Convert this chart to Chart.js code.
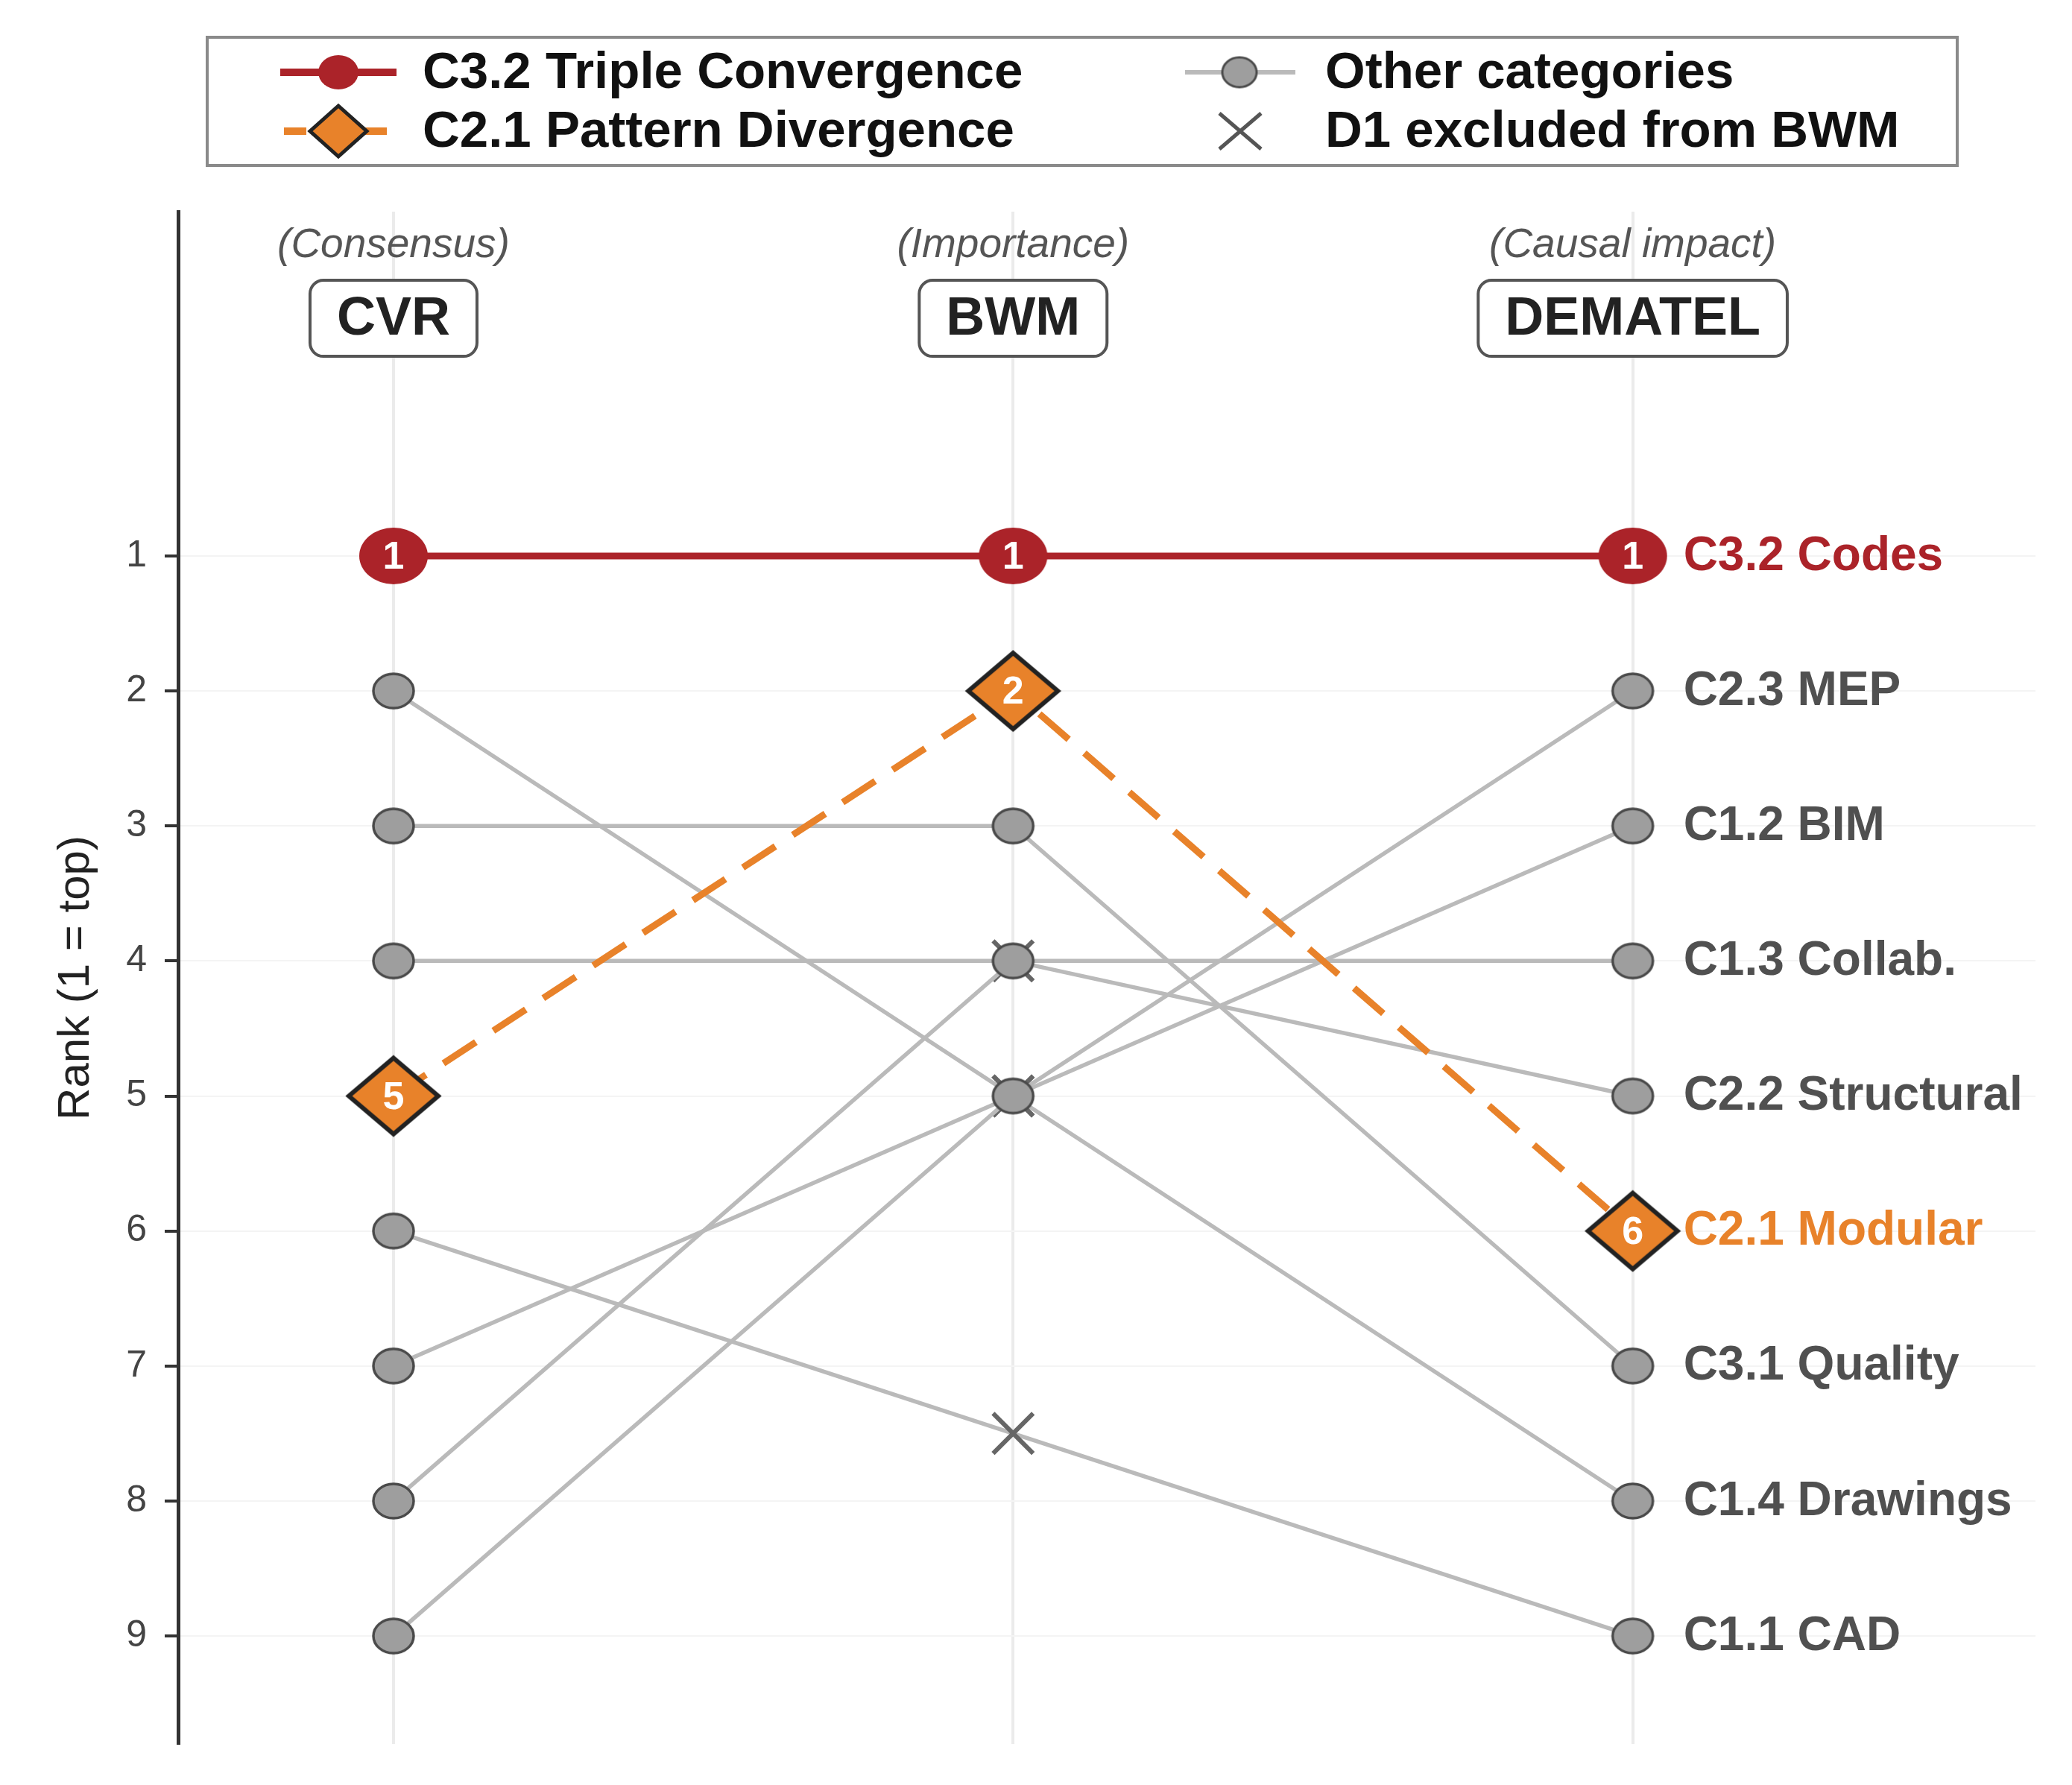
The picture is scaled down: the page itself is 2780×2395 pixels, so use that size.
<!DOCTYPE html>
<html>
<head>
<meta charset="utf-8">
<title>Rank comparison CVR / BWM / DEMATEL</title>
<script src="https://cdn.jsdelivr.net/npm/chart.js@4.4.1/dist/chart.umd.min.js"></script>
<style>
  html, body { margin: 0; padding: 0; background: #fff; }
  canvas { display: block; }
</style>
</head>
<body>
<canvas id="rankChart" width="2780" height="2395"></canvas>
<script>
// Methods (columns) and their notes
const methods = ['CVR', 'BWM', 'DEMATEL'];
const methodNotes = ['(Consensus)', '(Importance)', '(Causal impact)'];
const rankTicks = [1, 2, 3, 4, 5, 6, 7, 8, 9];

// Categories and their ranks per method
const categories = ['C3.2 Codes', 'C2.1 Modular', 'C2.3 MEP', 'C1.2 BIM', 'C1.3 Collab.',
                    'C2.2 Structural', 'C3.1 Quality', 'C1.4 Drawings', 'C1.1 CAD'];
const cvrRank = [1, 5, 9, 7, 4, 8, 3, 2, 6];
const bwmRank = [1, 2, 5, 5, 4, 4, 3, 5, 7.5];   // D1 rows: placeholder position (not ranked by BWM)
const dematelRank = [1, 6, 2, 3, 4, 5, 7, 8, 9];
const excludedD1 = [false, false, false, true, true, false, false, true, true];

const RED = '#AB2329';
const ORANGE = '#E8822A';
const GRAY_LINE = '#bababa';
const FONT = '"Liberation Sans", Arial, Helvetica, sans-serif';

// marker images
function ellipseMarker(rx, ry, fill, stroke, lw) {
    const c = document.createElement('canvas');
    c.width = Math.ceil(2 * rx + lw + 2);
    c.height = Math.ceil(2 * ry + lw + 2);
    const g = c.getContext('2d');
    g.beginPath();
    g.ellipse(c.width / 2, c.height / 2, rx, ry, 0, 0, Math.PI * 2);
    g.fillStyle = fill;
    g.fill();
    if (lw) { g.lineWidth = lw; g.strokeStyle = stroke; g.stroke(); }
    return c;
}
function diamondMarker(hw, hh, fill, stroke, lw) {
    const c = document.createElement('canvas');
    c.width = Math.ceil(2 * hw + lw * 2 + 2);
    c.height = Math.ceil(2 * hh + lw * 2 + 2);
    const g = c.getContext('2d');
    const cx = c.width / 2, cy = c.height / 2;
    g.beginPath();
    g.moveTo(cx, cy - hh); g.lineTo(cx + hw, cy); g.lineTo(cx, cy + hh); g.lineTo(cx - hw, cy);
    g.closePath();
    g.fillStyle = fill; g.fill();
    g.lineWidth = lw; g.strokeStyle = stroke; g.lineJoin = 'miter'; g.stroke();
    return c;
}
const redDot = ellipseMarker(46, 38, RED, RED, 0);
const grayDot = ellipseMarker(27, 23, '#9e9e9e', '#4a4a4a', 3.5);
const orangeDiamond = diamondMarker(60, 51, ORANGE, '#222', 6);

// one dataset per category
const datasets = categories.map((name, i) => {
    const data = [
        { x: 1, y: cvrRank[i] },
        { x: 2, y: bwmRank[i] },
        { x: 3, y: dematelRank[i] }
    ];
    if (i === 0) {
        return { label: name, data, borderColor: RED, borderWidth: 9, pointStyle: redDot, order: 0 };
    }
    if (i === 1) {
        return { label: name, data, borderColor: ORANGE, borderWidth: 9, borderDash: [52, 28],
                 pointStyle: orangeDiamond, order: 1 };
    }
    if (excludedD1[i]) {
        return {
            label: name, data, borderColor: GRAY_LINE, borderWidth: 5.5,
            pointStyle: [grayDot, 'crossRot', grayDot],
            pointRadius: [10, 38, 10],
            pointBorderColor: ['#4a4a4a', '#666', '#4a4a4a'],
            pointBorderWidth: [1, 6, 1],
            order: 3
        };
    }
    return { label: name, data, borderColor: GRAY_LINE, borderWidth: 5.5, pointStyle: grayDot, order: 2 };
});

function roundRect(ctx, x, y, w, h, r) {
    ctx.beginPath();
    ctx.moveTo(x + r, y);
    ctx.arcTo(x + w, y, x + w, y + h, r);
    ctx.arcTo(x + w, y + h, x, y + h, r);
    ctx.arcTo(x, y + h, x, y, r);
    ctx.arcTo(x, y, x + w, y, r);
    ctx.closePath();
}

// headers, in-marker numbers, end labels and the legend
const annotations = {
    id: 'annotations',
    afterDatasetsDraw(chart) {
        const ctx = chart.ctx;
        const xs = chart.scales.x, ys = chart.scales.y;
        ctx.save();
        ctx.textBaseline = 'middle';
        ctx.textAlign = 'center';

        // column headers
        methods.forEach((m, i) => {
            const cx = xs.getPixelForValue(i + 1);
            ctx.font = 'italic 55px ' + FONT;
            ctx.fillStyle = '#555';
            ctx.fillText(methodNotes[i], cx, ys.getPixelForValue(-1.3));
            ctx.font = 'bold 72px ' + FONT;
            const w = ctx.measureText(m).width + 72;
            const cy = ys.getPixelForValue(-0.76);
            roundRect(ctx, cx - w / 2, cy - 51, w, 102, 18);
            ctx.fillStyle = '#fff'; ctx.fill();
            ctx.lineWidth = 4; ctx.strokeStyle = '#555'; ctx.stroke();
            ctx.fillStyle = '#222';
            ctx.fillText(m, cx, cy + 2);
        });

        // rank numbers inside highlighted markers
        [0, 1].forEach(di => {
            const meta = chart.getDatasetMeta(di);
            const ranks = [cvrRank[di], bwmRank[di], dematelRank[di]];
            meta.data.forEach((pt, j) => {
                ctx.font = 'bold 52px ' + FONT;
                ctx.fillStyle = '#fff';
                ctx.fillText(String(ranks[j]), pt.x, pt.y + 3);
            });
        });

        // labels at the right end
        ctx.textAlign = 'left';
        ctx.font = 'bold 64px ' + FONT;
        categories.forEach((name, i) => {
            ctx.fillStyle = i === 0 ? RED : (i === 1 ? ORANGE : '#505050');
            ctx.fillText(name, xs.getPixelForValue(3) + 68, ys.getPixelForValue(dematelRank[i]) + 1);
        });
        ctx.restore();
    },
    afterDraw(chart) {
        const ctx = chart.ctx;
        ctx.save();
        // legend box
        ctx.fillStyle = '#fff';
        ctx.fillRect(278, 50, 2348, 172);
        ctx.lineWidth = 4; ctx.strokeStyle = '#8a8a8a';
        ctx.strokeRect(278, 50, 2348, 172);

        const r1 = 97, r2 = 176;
        // red line + dot
        ctx.strokeStyle = RED; ctx.lineWidth = 10;
        ctx.beginPath(); ctx.moveTo(376, r1); ctx.lineTo(532, r1); ctx.stroke();
        ctx.drawImage(ellipseMarker(27, 23, RED, RED, 0), 454 - 28, r1 - 24);
        // orange dashed + diamond
        ctx.strokeStyle = ORANGE; ctx.lineWidth = 10;
        ctx.setLineDash([30, 24]);
        ctx.beginPath(); ctx.moveTo(381, r2); ctx.lineTo(532, r2); ctx.stroke();
        ctx.setLineDash([]);
        const dm = diamondMarker(38, 34, ORANGE, '#222', 5);
        ctx.drawImage(dm, 454 - dm.width / 2, r2 - dm.height / 2);
        // gray line + dot
        ctx.strokeStyle = GRAY_LINE; ctx.lineWidth = 6;
        ctx.beginPath(); ctx.moveTo(1590, r1); ctx.lineTo(1738, r1); ctx.stroke();
        const gd = ellipseMarker(23, 20, '#9e9e9e', '#4a4a4a', 3);
        ctx.drawImage(gd, 1663 - gd.width / 2, r1 - gd.height / 2);
        // X
        ctx.strokeStyle = '#555'; ctx.lineWidth = 5;
        ctx.beginPath();
        ctx.moveTo(1636, r2 - 24); ctx.lineTo(1692, r2 + 24);
        ctx.moveTo(1692, r2 - 24); ctx.lineTo(1636, r2 + 24);
        ctx.stroke();

        ctx.fillStyle = '#111';
        ctx.font = 'bold 69px ' + FONT;
        ctx.textBaseline = 'middle';
        ctx.textAlign = 'left';
        ctx.fillText('C3.2 Triple Convergence', 567, r1 + 2);
        ctx.fillText('C2.1 Pattern Divergence', 567, r2 + 2);
        ctx.fillText('Other categories', 1778, r1 + 2);
        ctx.fillText('D1 excluded from BWM', 1778, r2 + 2);
        ctx.restore();
    }
};

const ctx = document.getElementById('rankChart').getContext('2d');
const chart = new Chart(ctx, {
    type: 'line',
    data: { datasets },
    options: {
        responsive: false,
        animation: false,
        devicePixelRatio: 1,
        layout: { padding: { top: 284, right: 49, bottom: 55, left: 0 } },
        plugins: { legend: { display: false }, tooltip: { enabled: false } },
        elements: { line: { tension: 0 }, point: { radius: 10 } },
        scales: {
            x: {
                type: 'linear',
                min: 0.6524,
                max: 3.65,
                afterBuildTicks: s => { s.ticks = methods.map((m, i) => ({ value: i + 1 })); },
                afterFit: s => { s.height = 0; },
                ticks: { display: false },
                grid: { color: '#ebebeb', lineWidth: 4, drawTicks: false },
                border: { display: false }
            },
            y: {
                type: 'linear',
                reverse: true,
                min: -1.55,
                max: 9.8,
                afterBuildTicks: s => { s.ticks = rankTicks.map(v => ({ value: v })); },
                afterFit: s => { s.width = 239; },
                ticks: {
                    color: '#444',
                    padding: 24,
                    font: { family: FONT, size: 50 }
                },
                grid: { color: '#f4f4f4', lineWidth: 2, tickLength: 18, tickColor: '#333', tickWidth: 4 },
                border: { color: '#333', width: 5 },
                title: {
                    display: true,
                    text: 'Rank (1 = top)',
                    color: '#222',
                    font: { family: FONT, size: 60 },
                    padding: { top: 66, bottom: 0 }
                }
            }
        }
    },
    plugins: [annotations]
});
</script>
</body>
</html>
